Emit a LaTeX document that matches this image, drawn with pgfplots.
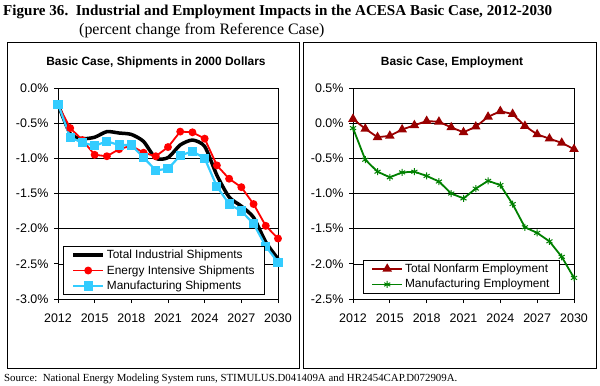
\documentclass[border=0pt]{standalone}
\usepackage{fontspec}
\setmainfont{Liberation Sans}
\newfontfamily\timesfont{Liberation Serif}
\usepackage{pgfplots}
\usepackage{pgfplotstable}
\pgfplotsset{compat=1.18}

\definecolor{eired}{RGB}{255,0,0}
\definecolor{mscyan}{RGB}{51,204,255}
\definecolor{tnred}{RGB}{153,0,0}
\definecolor{megreen}{RGB}{0,128,0}

\pgfplotstableread{
year ti ei ms
2012 -0.23 -0.24 -0.23
2013 -0.65 -0.57 -0.70
2014 -0.72 -0.74 -0.78
2015 -0.70 -0.95 -0.82
2016 -0.62 -0.97 -0.76
2017 -0.64 -0.87 -0.81
2018 -0.66 -0.82 -0.81
2019 -0.76 -0.92 -0.99
2020 -1.00 -0.97 -1.17
2021 -0.99 -0.84 -1.15
2022 -0.81 -0.62 -0.96
2023 -0.74 -0.63 -0.90
2024 -0.83 -0.72 -1.00
2025 -1.24 -1.10 -1.40
2026 -1.55 -1.29 -1.65
2027 -1.68 -1.41 -1.75
2028 -1.84 -1.65 -1.93
2029 -2.19 -1.96 -2.25
2030 -2.43 -2.14 -2.48
}\shiptab

\pgfplotstableread{
year tn me
2012 0.06 -0.07
2013 -0.08 -0.52
2014 -0.20 -0.69
2015 -0.18 -0.77
2016 -0.09 -0.70
2017 -0.03 -0.69
2018 0.03 -0.75
2019 0.02 -0.83
2020 -0.06 -1.00
2021 -0.13 -1.07
2022 -0.05 -0.93
2023 0.09 -0.82
2024 0.17 -0.88
2025 0.13 -1.15
2026 -0.04 -1.48
2027 -0.16 -1.56
2028 -0.22 -1.68
2029 -0.28 -1.90
2030 -0.37 -2.20
}\emptab

\pgfplotsset{
  panel/.style={
    scale only axis,
    height=211bp,
    xmin=2012, xmax=2030,
    xtick={2012,2015,...,2030},
    x tick label style={/pgf/number format/1000 sep={}},
    /pgf/number format/assume math mode=true,
    yticklabel={\pgfmathprintnumber[fixed,fixed zerofill,precision=1,assume math mode=true]{\tick}\%},
    tick label style={font=\fontsize{12.5}{12.5}\selectfont},
    ymajorgrids,
    grid style={black, line width=0.6bp},
    axis line style={black, line width=0.75bp},
    tick style={black, line width=0.75bp},
    tick align=outside,
    major tick length=4bp,
    xtick pos=bottom, ytick pos=left,
    xticklabel shift=7bp,
    yticklabel shift=2bp,
    clip=false,
    legend cell align=left,
    legend style={draw=black, line width=0.75bp, fill=white,
      font=\fontsize{11.9}{11.9}\selectfont, inner xsep=8bp, inner ysep=1.5bp,
      row sep=1.5bp, anchor=north west},
    legend image code/.code={%
      \draw[mark repeat=2,mark phase=2] plot coordinates {(0bp,0bp) (15bp,0bp) (30bp,0bp)};},
  },
}

\begin{document}
\begin{tikzpicture}
\useasboundingbox (0,0) rectangle (600bp,-386bp);

\node[anchor=base west, inner sep=0pt, font=\timesfont\bfseries\fontsize{15.15}{15.15}\selectfont] at (3bp,-15bp)
  {Figure 36.\ \ Industrial and Employment Impacts in the ACESA Basic Case, 2012-2030};
\node[anchor=base west, inner sep=0pt, font=\timesfont\fontsize{16}{16}\selectfont] at (79bp,-34bp)
  {(percent change from Reference Case)};
\node[anchor=base west, inner sep=0pt, font=\timesfont\fontsize{10.9}{10.9}\selectfont] at (4bp,-381bp)
  {Source:\ \ National Energy Modeling System runs, STIMULUS.D041409A and HR2454CAP.D072909A.};

\draw[line width=0.9bp] (7bp,-42bp) rectangle (299bp,-368bp);
\draw[line width=0.9bp] (303bp,-42bp) rectangle (596bp,-368bp);

\node[font=\bfseries\fontsize{12}{12}\selectfont] at (156bp,-62bp) {Basic Case, Shipments in 2000 Dollars};
\node[font=\bfseries\fontsize{12}{12}\selectfont] at (452bp,-62bp) {Basic Case, Employment};

\begin{axis}[panel, at={(58bp,-299bp)}, anchor=south west, width=220bp,
  ymin=-3, ymax=0, ytick={-3,-2.5,...,0},
  legend style={at={(0.023,0.251)}}]
\addplot[black, line width=3.5bp, smooth, tension=0.4, no markers] table[x=year,y=ti]{\shiptab};
\addlegendentry{Total Industrial Shipments}
\addplot[eired, line width=1.8bp, mark=*, mark size=3bp, mark options={fill=eired}] table[x=year,y=ei]{\shiptab};
\addlegendentry{Energy Intensive Shipments}
\addplot[mscyan, line width=2.2bp, mark=square*, mark size=3.5bp, mark options={fill=mscyan}] table[x=year,y=ms]{\shiptab};
\addlegendentry{Manufacturing Shipments}
\end{axis}

\begin{axis}[panel, at={(353bp,-299bp)}, anchor=south west, width=221bp,
  ymin=-2.5, ymax=0.5, ytick={-2.5,-2,...,0.5},
  legend style={at={(0.045,0.185)}}]
\addplot[tnred, line width=1.8bp, mark=triangle*, mark size=3.8bp, mark options={fill=tnred}] table[x=year,y=tn]{\emptab};
\addlegendentry{Total Nonfarm Employment}
\addplot[megreen, line width=1.8bp, mark=asterisk, mark size=3.5bp, mark options={line width=1bp}] table[x=year,y=me]{\emptab};
\addlegendentry{Manufacturing Employment}
\end{axis}
\end{tikzpicture}
\end{document}
